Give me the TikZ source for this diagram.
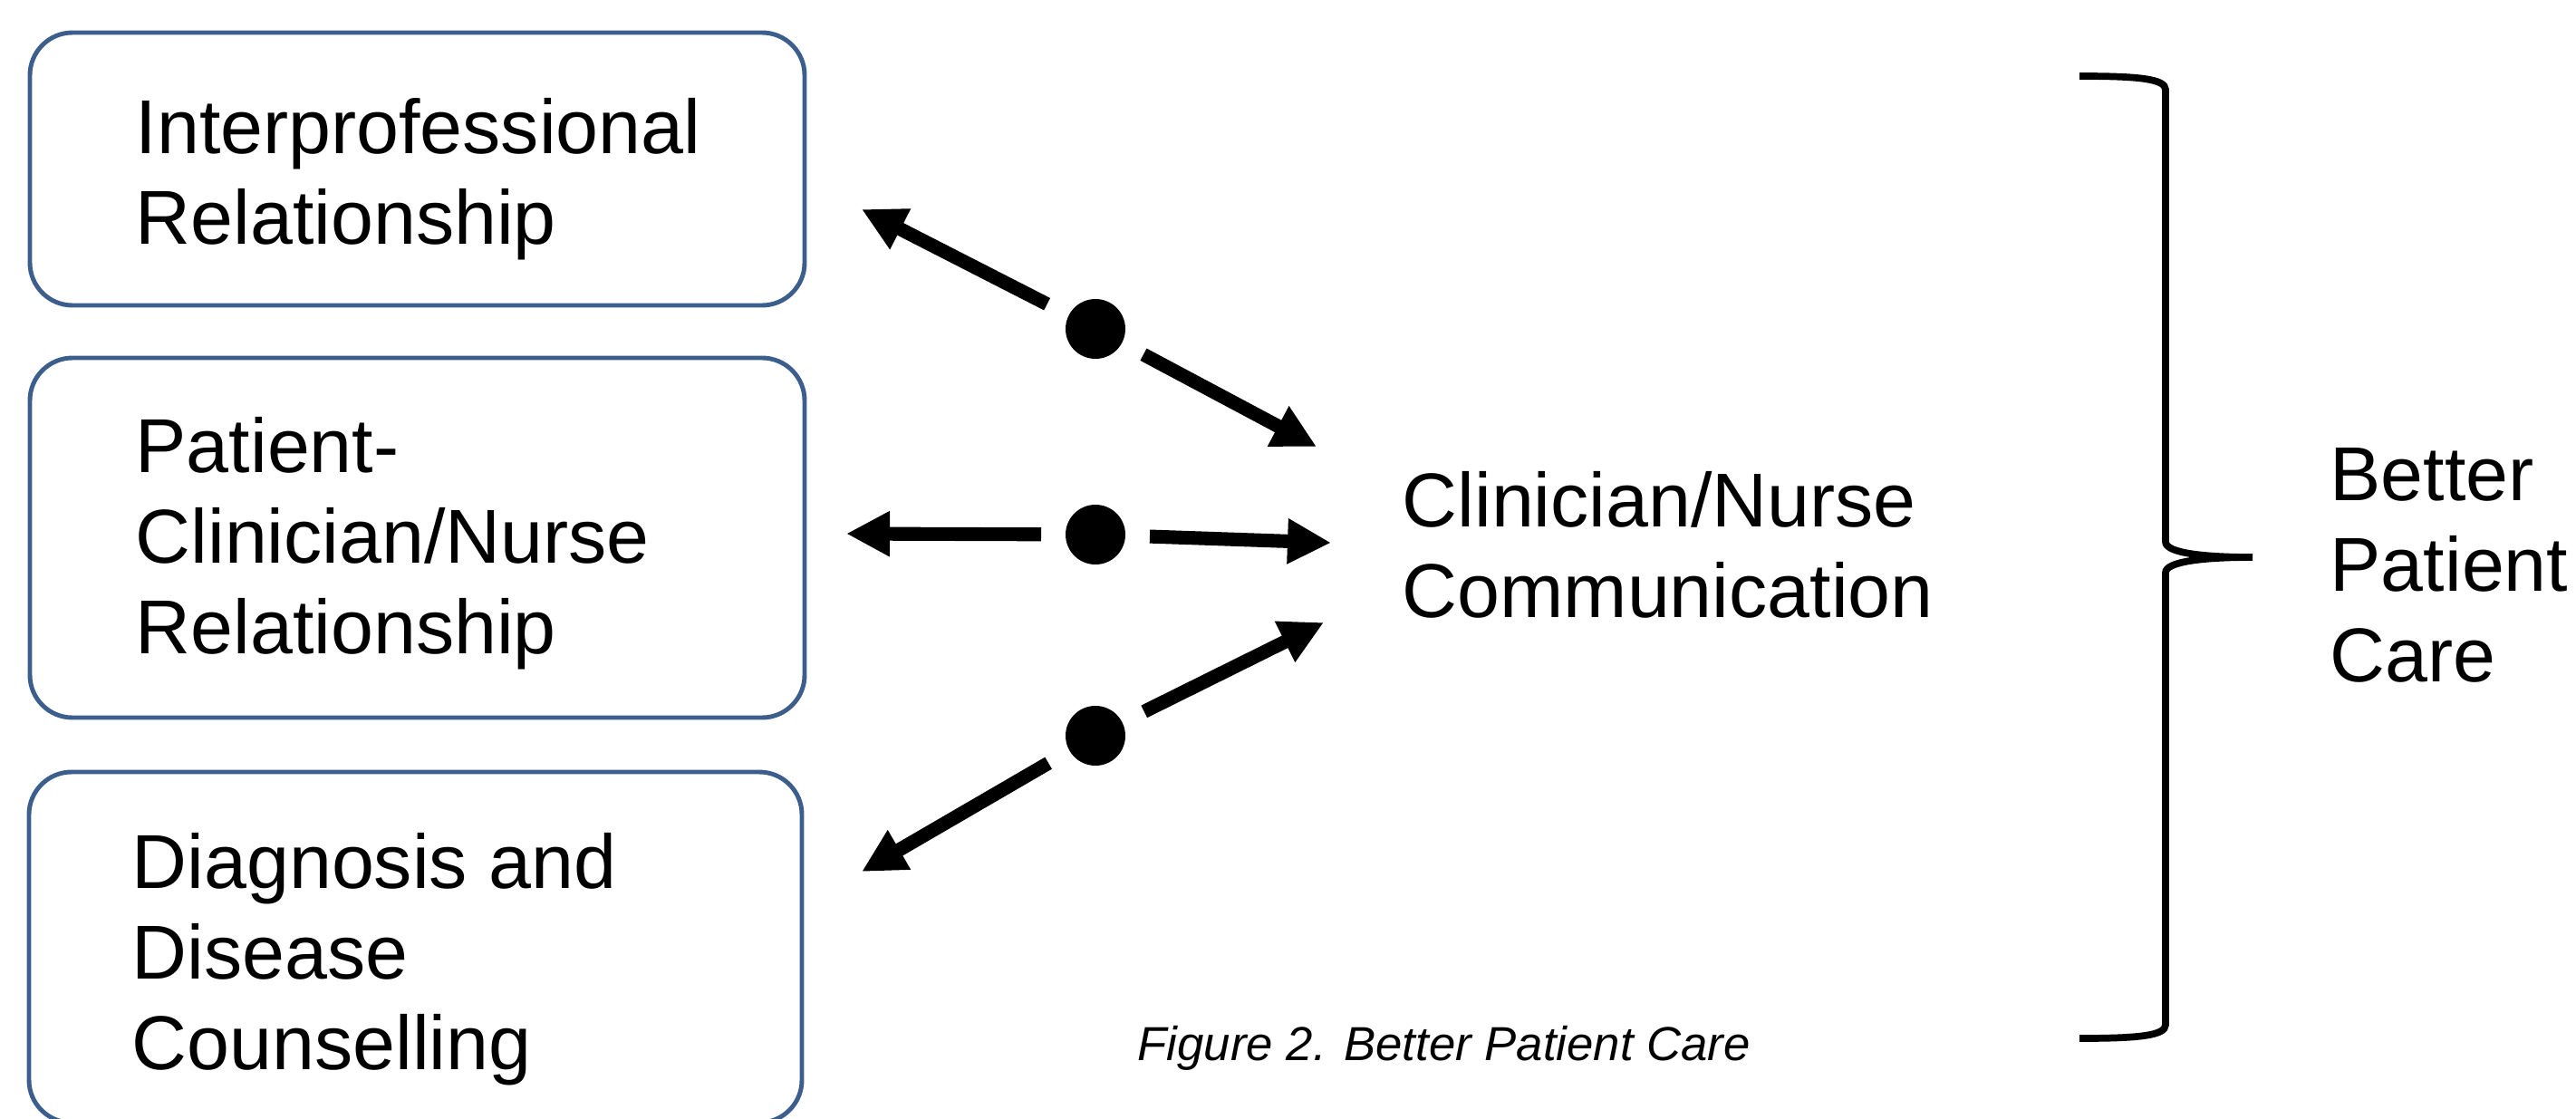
\documentclass[tikz,border=0pt]{standalone}
\usepackage{fontspec}
\setmainfont{Liberation Sans}
\usepackage{tikz}
\usepackage{xcolor}
\usetikzlibrary{arrows.meta,positioning}
\definecolor{careBlue}{HTML}{3B5E8C}
\definecolor{careBlack}{HTML}{000000}

\begin{document}
\begin{tikzpicture}
    \tikzset{
        box/.style={draw=careBlue,line width=1.4pt,rounded corners=0.47cm,minimum width=8.55cm,inner sep=0,outer sep=0},
        txt/.style={font=\fontsize{24}{28.5}\selectfont,align=left,inner sep=0,anchor=west},
        dot/.style={circle,fill=careBlack,minimum size=0.66cm,inner sep=0,outer sep=0.27cm},
        arrow/.style={careBlack,line width=4.3pt,-{Triangle[length=0.48cm,width=0.47cm]}}
    };
    \useasboundingbox (0,0) rectangle (28.43,12.34);
    % the three boxes
    \node[box,minimum height=3.01cm] (ipr) at (4.605,10.475) {};
    \node[box,minimum height=3.97cm] (pcn) at (4.605,6.405) {};
    \node[box,minimum width=8.53cm,minimum height=3.87cm] (ddc) at (4.585,1.885) {};
    \node[txt] (ipr text) at ([xshift=1.16cm,yshift=-0.115cm]ipr.west) {Interprofessional\\Relationship};
    \node[txt] (pcn text) at ([xshift=1.16cm,yshift=-0.065cm]pcn.west) {Patient-\\Clinician/Nurse\\Relationship};
    \node[txt] (ddc text) at ([xshift=1.13cm,yshift=-0.135cm]ddc.west) {Diagnosis and\\Disease\\Counselling};
    % middle and right labels
    \node[txt] (comm) at (15.47,6.33) {Clinician/Nurse\\Communication};
    \node[txt] (care) at (25.71,6.10) {Better\\Patient\\Care};
    \node[anchor=base west,inner sep=0,font=\fontsize{15}{18}\selectfont\itshape] (caption) at (12.55,0.64) {Figure 2. Better Patient Care};
    % dots with their arrows
    \node[dot] (dot1) at (12.09,8.71) {};
    \node[dot] (dot2) at (12.09,6.44) {};
    \node[dot] (dot3) at (12.09,4.22) {};
    \coordinate (left1) at (9.51,10.03);
    \coordinate (right1) at (14.53,7.41);
    \coordinate (left2) at (9.34,6.45);
    \coordinate (right2) at (14.69,6.35);
    \coordinate (left3) at (9.51,2.72);
    \coordinate (right3) at (14.61,5.47);
    \foreach \n in {1,2,3}{
        \draw[arrow] (dot\n) -- (left\n);
        \draw[arrow] (dot\n) -- (right\n);
        }
    % brace
    \draw[careBlack,line width=2.2pt] (22.95,11.50) .. controls (23.60,11.50) and (23.90,11.47) .. (23.90,11.35)
        -- (23.90,6.36) .. controls (23.90,6.24) and (24.30,6.19) .. (24.86,6.19)
        .. controls (24.30,6.19) and (23.90,6.14) .. (23.90,6.02)
        -- (23.90,1.03) .. controls (23.90,0.91) and (23.60,0.88) .. (22.95,0.88);
\end{tikzpicture}
\end{document}
